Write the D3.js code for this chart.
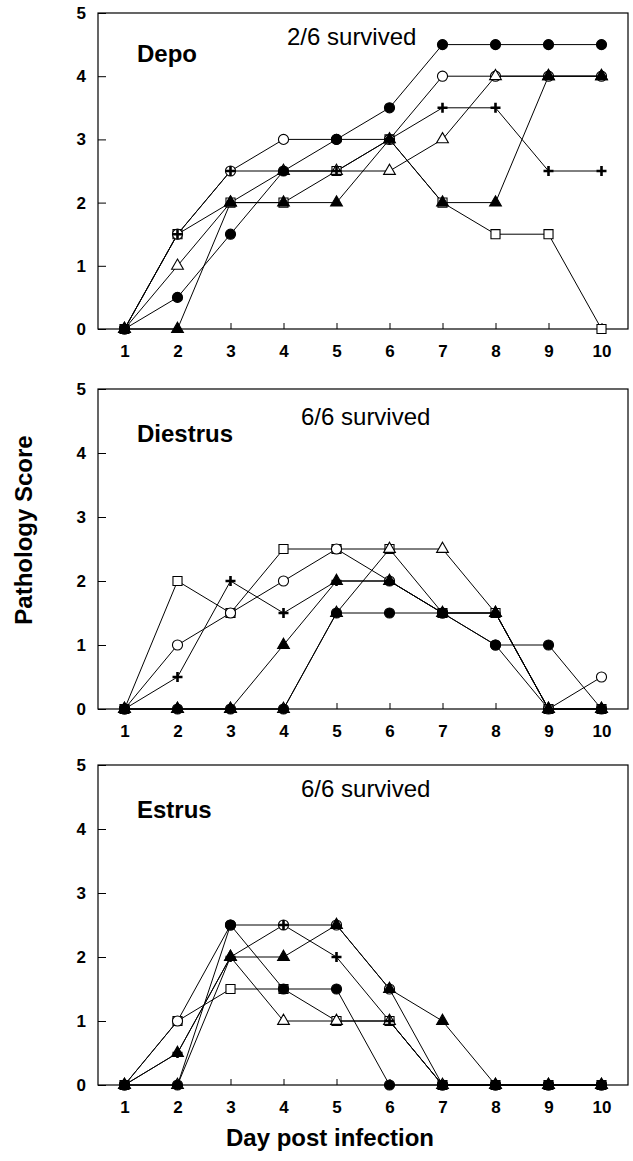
<!DOCTYPE html>
<html>
<head>
<meta charset="utf-8">
<script src="https://cdn.jsdelivr.net/npm/d3@7"></script>
<style>
  body { margin: 0; background: #fff; }
  svg { display: block; }
  text { font-family: "Liberation Sans", Arial, Helvetica, sans-serif; fill: #000; }
</style>
</head>
<body>
<svg id="chart" width="633" height="1161"></svg>
<script>
// days and ticks
const days = [1, 2, 3, 4, 5, 6, 7, 8, 9, 10];
const scoreTicks = [0, 1, 2, 3, 4, 5];

const panelNames = ["Depo", "Diestrus", "Estrus"];
const survivalLabels = ["2/6 survived", "6/6 survived", "6/6 survived"];

// Depo
const depoOpenSquare    = [0, 1.5, 2, 2, 2.5, 3, 2, 1.5, 1.5, 0];
const depoOpenCircle    = [0, 1.5, 2.5, 3, 3, 3, 4, 4, 4, 4];
const depoOpenTriangle  = [0, 1, 2, 2.5, 2.5, 2.5, 3, 4, 4, 4];
const depoFilledCircle  = [0, 0.5, 1.5, 2.5, 3, 3.5, 4.5, 4.5, 4.5, 4.5];
const depoFilledTriangle= [0, 0, 2, 2, 2, 3, 2, 2, 4, 4];
const depoPlus          = [0, 1.5, 2.5, 2.5, 2.5, 3, 3.5, 3.5, 2.5, 2.5];

// Diestrus
const diestrusOpenSquare    = [0, 2, 1.5, 2.5, 2.5, 2.5, 1.5, 1.5, 0, 0];
const diestrusOpenCircle    = [0, 1, 1.5, 2, 2.5, 2, 1.5, 1, 0, 0.5];
const diestrusOpenTriangle  = [0, 0, 0, 0, 1.5, 2.5, 2.5, 1.5, 0, 0];
const diestrusFilledCircle  = [0, 0, 0, 0, 1.5, 1.5, 1.5, 1, 1, 0];
const diestrusFilledTriangle= [0, 0, 0, 1, 2, 2, 1.5, 1.5, 0, 0];
const diestrusPlus          = [0, 0.5, 2, 1.5, 2, 2, 1.5, 1.5, 0, 0];

// Estrus
const estrusOpenSquare    = [0, 1, 1.5, 1.5, 1, 1, 0, 0, 0, 0];
const estrusOpenCircle    = [0, 1, 2.5, 2.5, 2.5, 1.5, 0, 0, 0, 0];
const estrusOpenTriangle  = [0, 0, 2, 1, 1, 1, 0, 0, 0, 0];
const estrusFilledCircle  = [0, 0, 2.5, 1.5, 1.5, 0, 0, 0, 0, 0];
const estrusFilledTriangle= [0, 0.5, 2, 2, 2.5, 1.5, 1, 0, 0, 0];
const estrusPlus          = [0, 0.5, 2, 2.5, 2, 1, 0, 0, 0, 0];

// open markers first so filled ones and plus sit on top
const markerTypes = ["openSquare", "openCircle", "openTriangle", "filledCircle", "filledTriangle", "plus"];
const panelSeries = [
  [depoOpenSquare, depoOpenCircle, depoOpenTriangle, depoFilledCircle, depoFilledTriangle, depoPlus],
  [diestrusOpenSquare, diestrusOpenCircle, diestrusOpenTriangle, diestrusFilledCircle, diestrusFilledTriangle, diestrusPlus],
  [estrusOpenSquare, estrusOpenCircle, estrusOpenTriangle, estrusFilledCircle, estrusFilledTriangle, estrusPlus]
];

// layout
const plotLeft = 98, plotRight = 628;
const panelTops = [13, 389, 765];
const panelBottoms = [329, 709, 1085];
const titleBaselines = [62, 442, 818];
const survivedBaselines = [45, 425, 797];

const svg = d3.select("#chart");

const x = d3.scaleLinear().domain([0.5, 10.5]).range([plotLeft, plotRight]);

function markerPath(type) {
  if (type === "openSquare") return d3.symbol(d3.symbolSquare, 82)();
  if (type === "openCircle" || type === "filledCircle") return d3.symbol(d3.symbolCircle, 80)();
  if (type === "openTriangle" || type === "filledTriangle") return d3.symbol(d3.symbolTriangle, 60)();
  return "M-5,0H5M0,-5V5";
}

panelNames.forEach((name, p) => {
  const y = d3.scaleLinear().domain([0, 5]).range([panelBottoms[p], panelTops[p]]);
  const g = svg.append("g");

  // x axis with inward ticks
  const xAxis = g.append("g")
    .attr("transform", `translate(0,${panelBottoms[p]})`)
    .call(d3.axisBottom(x).tickValues(days).tickFormat(d3.format("d"))
      .tickSizeInner(-6).tickSizeOuter(0).tickPadding(16));
  xAxis.select(".domain").remove();
  xAxis.selectAll("line").attr("stroke", "#000");
  xAxis.selectAll("text")
    .style("font-size", "17px")
    .style("font-weight", "bold")
    .style("font-family", "'Liberation Sans', Arial, sans-serif");

  // y axis with inward ticks
  const yAxis = g.append("g")
    .attr("transform", `translate(${plotLeft},0)`)
    .call(d3.axisLeft(y).tickValues(scoreTicks).tickFormat(d3.format("d"))
      .tickSizeInner(-8).tickSizeOuter(0).tickPadding(12));
  yAxis.select(".domain").remove();
  yAxis.selectAll("line").attr("stroke", "#000");
  yAxis.selectAll("text")
    .style("font-size", "17px")
    .style("font-weight", "bold")
    .style("font-family", "'Liberation Sans', Arial, sans-serif");

  // frame
  g.append("rect")
    .attr("x", plotLeft)
    .attr("y", panelTops[p])
    .attr("width", plotRight - plotLeft)
    .attr("height", panelBottoms[p] - panelTops[p])
    .attr("fill", "none")
    .attr("stroke", "#000")
    .attr("stroke-width", 1.2);

  const line = d3.line()
    .x((d, i) => x(days[i]))
    .y(d => y(d));

  // lines
  g.selectAll(".series")
    .data(panelSeries[p])
    .enter().append("path")
    .attr("class", "series")
    .attr("d", d => line(d))
    .attr("fill", "none")
    .attr("stroke", "#000")
    .attr("stroke-width", 1);

  // markers
  panelSeries[p].forEach((values, s) => {
    const type = markerTypes[s];
    const isOpen = type.startsWith("open");
    const isPlus = type === "plus";
    g.selectAll(".m" + s)
      .data(values)
      .enter().append("path")
      .attr("class", "m" + s)
      .attr("transform", (d, i) => `translate(${x(days[i])},${y(d)})`)
      .attr("d", markerPath(type))
      .attr("fill", isPlus ? "none" : (isOpen ? "#fff" : "#000"))
      .attr("stroke", "#000")
      .attr("stroke-width", isPlus ? 2.6 : 1.1);
  });

  // titles
  g.append("text")
    .attr("x", 137)
    .attr("y", titleBaselines[p])
    .style("font-size", "24px")
    .style("font-weight", "bold")
    .text(name);

  g.append("text")
    .attr("x", p === 0 ? 287 : 301)
    .attr("y", survivedBaselines[p])
    .style("font-size", "24px")
    .text(survivalLabels[p]);
});

// axis titles
svg.append("text")
  .attr("transform", "translate(32,530) rotate(-90)")
  .attr("text-anchor", "middle")
  .style("font-size", "24px")
  .style("font-weight", "bold")
  .text("Pathology Score");

svg.append("text")
  .attr("x", 330)
  .attr("y", 1146)
  .attr("text-anchor", "middle")
  .style("font-size", "24px")
  .style("font-weight", "bold")
  .text("Day post infection");
</script>
</body>
</html>
